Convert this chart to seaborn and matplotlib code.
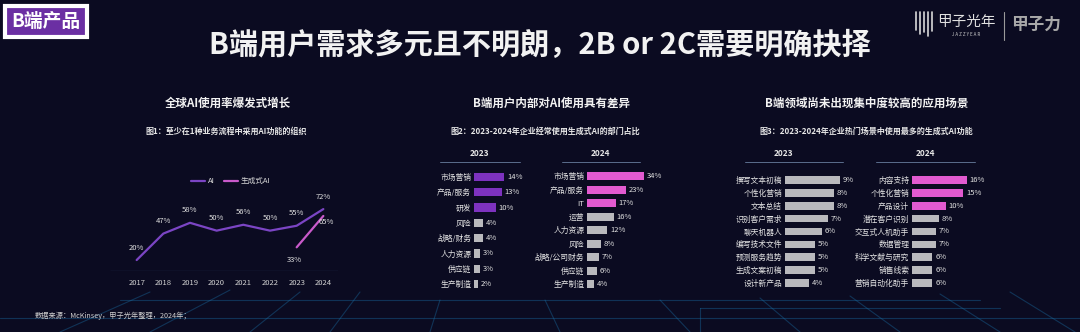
import matplotlib
matplotlib.use("Agg")
import matplotlib.pyplot as plt
import seaborn as sns
import pandas as pd

sns.set_theme(style="dark")
plt.rcParams['font.family'] = ['Noto Sans CJK SC', 'DejaVu Sans']
plt.rcParams['axes.unicode_minus'] = False

# ---------------- data ----------------
years = [2017, 2018, 2019, 2020, 2021, 2022, 2023, 2024]
ai_rate = [20, 47, 58, 50, 56, 50, 55, 72]
gen_years = [2023, 2024]
gen_rate = [33, 65]

dept_2023 = ["市场营销", "产品/服务", "研发", "风险", "战略/财务", "人力资源", "供应链", "生产制造"]
dept_2023_vals = [14, 13, 10, 4, 4, 3, 3, 2]
dept_2024 = ["市场营销", "产品/服务", "IT", "运营", "人力资源", "风险", "战略/公司财务", "供应链", "生产制造"]
dept_2024_vals = [34, 23, 17, 16, 12, 8, 7, 6, 4]

func_2023 = ["撰写文本初稿", "个性化营销", "文本总结", "识别客户需求", "聊天机器人",
             "编写技术文件", "预测服务趋势", "生成文案初稿", "设计新产品"]
func_2023_vals = [9, 8, 8, 7, 6, 5, 5, 5, 4]
func_2024 = ["内容支持", "个性化营销", "产品设计", "潜在客户识别", "交互式人机助手",
             "数据管理", "科学文献与研究", "销售线索", "营销自动化助手"]
func_2024_vals = [16, 15, 10, 8, 7, 7, 6, 6, 6]

# ---------------- style ----------------
W, H = 1080, 332
BG = "#0b0b21"
WHITE = "#f2f2f2"
PURPLE = "#7d32bf"
PINK = "#e25ad0"
GRAY = "#b9b9bd"
AI_LINE = "#7b45c4"
GEN_LINE = "#c95acb"

fig = plt.figure(figsize=(W / 100, H / 100), dpi=100, facecolor=BG)


def fx(px):
    return px / W


def fy(py):
    return 1 - py / H


def add_ax(x0, y0, x1, y1):
    ax = fig.add_axes([fx(x0), fy(y1), fx(x1) - fx(x0), (y1 - y0) / H])
    ax.set_facecolor("none")
    for s in ax.spines.values():
        s.set_visible(False)
    ax.grid(False)
    return ax


# decorative perspective grid at bottom
bg = fig.add_axes([0, 0, 1, 1], zorder=-5)
bg.set_xlim(0, W)
bg.set_ylim(H, 0)
bg.axis("off")
for (xa, ya, xb, yb) in [(60, 332, 150, 292), (150, 332, 230, 290), (250, 332, 300, 292),
                         (330, 332, 360, 292), (430, 332, 440, 300), (560, 332, 545, 300),
                         (690, 332, 660, 300), (800, 332, 760, 298), (900, 332, 850, 296),
                         (1000, 332, 940, 294), (1075, 332, 1010, 292),
                         (0, 318, 1080, 318), (120, 300, 980, 300),
                         (700, 332, 700, 308), (700, 308, 1000, 308)]:
    bg.plot([xa, xb], [ya, yb], color="#1a6fa6", lw=0.8, alpha=0.4)

# ---------------- header ----------------
fig.text(fx(46), fy(21), "B端产品", ha="center", va="center", fontsize=13.5,
         fontweight="bold", color="white",
         bbox=dict(boxstyle="square,pad=0.32", fc="#6b2fa3", ec="white", lw=3))
fig.text(fx(540), fy(45), "B端用户需求多元且不明朗，2B or 2C需要明确抉择",
         ha="center", va="center", fontsize=21, fontweight="bold", color=WHITE)

# logo
for xx, hh in [(916, 18), (920, 22), (924, 20), (928, 24), (932, 19)]:
    bg.plot([xx, xx], [12, 12 + hh], color="#d8d8d8", lw=1.2)
fig.text(fx(966), fy(22), "甲子光年", ha="center", va="center", fontsize=10.5, color="#e0e0e0")
fig.text(fx(966), fy(35), "J A Z Z Y E A R", ha="center", va="center", fontsize=3.2, color="#cfcfcf")
bg.plot([1004, 1004], [12, 40], color="#9a9a9a", lw=0.8)
fig.text(fx(1036), fy(25), "甲子力", ha="center", va="center", fontsize=12, fontweight="bold",
         color="#a8a8a8")

# ---------------- panel titles ----------------
panels = [
    (228, "全球AI使用率爆发式增长", 226, "图1：至少在1种业务流程中采用AI功能的组织"),
    (551, "B端用户内部对AI使用具有差异", 545, "图2：2023-2024年企业经常使用生成式AI的部门占比"),
    (867, "B端领域尚未出现集中度较高的应用场景", 866, "图3：2023-2024年企业热门场景中使用最多的生成式AI功能"),
]
for cx, t, scx, st in panels:
    fig.text(fx(cx), fy(103), t, ha="center", va="center", fontsize=8.3,
             fontweight="bold", color=WHITE)
    fig.text(fx(scx), fy(131), st, ha="center", va="center", fontsize=5.8,
             fontweight="bold", color="#e6e6e6")

# ---------------- panel 1: line chart ----------------
ax1 = add_ax(110, 190, 338, 271)
df_ai = pd.DataFrame({"year": years, "rate": ai_rate})
df_gen = pd.DataFrame({"year": gen_years, "rate": gen_rate})
sns.lineplot(data=df_ai, x="year", y="rate", ax=ax1, color=AI_LINE, lw=1.6, label="AI")
sns.lineplot(data=df_gen, x="year", y="rate", ax=ax1, color=GEN_LINE, lw=1.6, label="生成式AI")
ax1.set_xlim(2016.0, 2024.55)
ax1.set_ylim(8.8, 91.5)
ax1.axhline(8.8, color="#5a88c8", lw=0.8, alpha=0.8)
ax1.set_xticks(years)
ax1.set_xticklabels([str(y) for y in years])
ax1.tick_params(axis="x", length=0, pad=6, labelsize=5.5, colors="#d0d0d0")
ax1.set_yticks([])
ax1.set_xlabel("")
ax1.set_ylabel("")
for x, v in zip(years, ai_rate):
    ax1.annotate(f"{v}%", (x, v), xytext=(0, 6), textcoords="offset points",
                 ha="center", va="bottom", fontsize=5.5, color="#e0e0e0")
for x, v in zip(gen_years, gen_rate):
    off = (-2, -12) if x == 2023 else (2, -7)
    ax1.annotate(f"{v}%", (x, v), xytext=off, textcoords="offset points",
                 ha="center", va="bottom", fontsize=5.5, color="#e0e0e0")
leg = ax1.legend(loc="lower center", bbox_to_anchor=(0.53, 1.02), ncol=2, frameon=False,
                 fontsize=5.5, handlelength=1.8, columnspacing=1.2, handletextpad=0.4,
                 borderaxespad=0)
for txt in leg.get_texts():
    txt.set_color("#d8d8d8")


# ---------------- bar panels ----------------
def bar_panel(x0, x1, y0, y1, labels, vals, xmax, hi_color, height, line_x0, line_x1):
    ax = add_ax(x0, y0, x1, y1)
    colors = [hi_color if i < 3 else GRAY for i in range(len(vals))]
    df = pd.DataFrame({"label": labels, "val": vals})
    sns.barplot(data=df, x="val", y="label", hue="label", palette=colors, legend=False,
                orient="h", ax=ax, width=height, saturation=1, linewidth=0, edgecolor="none")
    ax.set_xlim(0, xmax)
    ax.set_xticks([])
    ax.set_xlabel("")
    ax.set_ylabel("")
    ax.tick_params(axis="y", length=0, pad=2, labelsize=5.6, colors="#e4e4e4")
    for c in ax.containers:
        ax.bar_label(c, labels=[f"{v:g}%" for v in c.datavalues], padding=2,
                     fontsize=5.5, color="#e0e0e0")
    bg.plot([line_x0, line_x1], [162, 162], color="#6f86a8", lw=0.7, alpha=0.8)
    return ax


bar_panel(474, 517, 169.3, 291.7, dept_2023, dept_2023_vals, 20, PURPLE, 0.55, 440, 520)
bar_panel(587, 663, 169.3, 290.8, dept_2024, dept_2024_vals, 45, PINK, 0.6, 562, 640)
bar_panel(785, 858, 173.5, 289.5, func_2023, func_2023_vals, 12, GRAY, 0.6, 745, 843)
bar_panel(912, 987, 173.5, 289.5, func_2024, func_2024_vals, 22, PINK, 0.6, 876, 975)

for hx, ht in [(480, "2023"), (600, "2024"), (784, "2023"), (925, "2024")]:
    fig.text(fx(hx), fy(154), ht, ha="center", va="center", fontsize=6,
             fontweight="bold", color="#e6e6e6")

# footer
fig.text(fx(35), fy(316), "数据来源：McKinsey，甲子光年整理，2024年；", ha="left", va="center",
         fontsize=5.2, color="#d0d0d0")

fig.savefig("out.png", dpi=100, facecolor=BG)
